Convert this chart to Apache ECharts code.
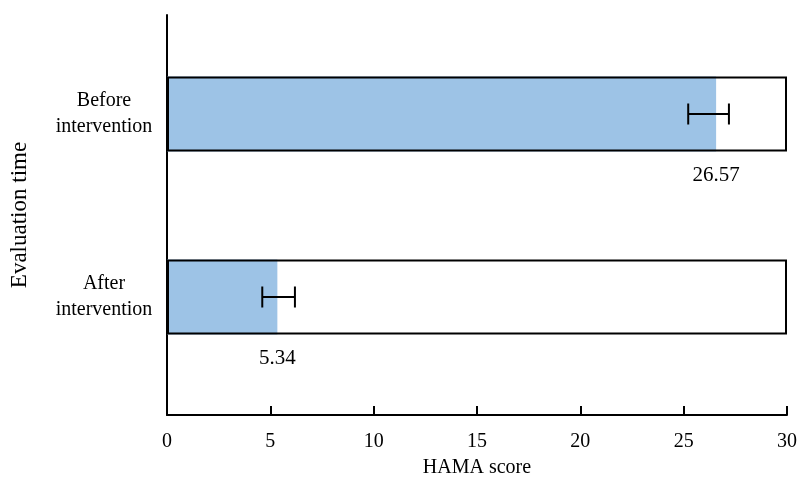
<!DOCTYPE html>
<html>
<head>
<meta charset="utf-8">
<script src="https://cdn.jsdelivr.net/npm/echarts@6/dist/echarts.min.js"></script>
<style>
  html, body { margin: 0; padding: 0; background: #ffffff; }
  #chart { width: 801px; height: 483px; }
</style>
</head>
<body>
<div id="chart"></div>
<script>
// ---- data ----
const categories = ['Before intervention', 'After intervention'];
const scores = [26.57, 5.34];
const errorLow = [25.22, 4.61];
const errorHigh = [27.19, 6.19];
const xTicks = [0, 5, 10, 15, 20, 25, 30];
const xAxisName = 'HAMA score';
const yAxisName = 'Evaluation time';

// ---- styling ----
const FONT = '"Liberation Serif", "Times New Roman", serif';
const scaleMin = xTicks[0];
const scaleMax = xTicks[xTicks.length - 1];
const tickStep = xTicks[1] - xTicks[0];

const chart = echarts.init(document.getElementById('chart'), null, { renderer: 'canvas' });

const option = {
  animation: false,
  backgroundColor: '#ffffff',
  textStyle: { fontFamily: FONT, color: '#000' },
  grid: [
    { left: 167, right: 14, top: 15, bottom: 68 },
    { left: 167, right: 14, top: 22.5, bottom: 94.5 }
  ],
  xAxis: [
    {
      gridIndex: 0,
      type: 'value',
      min: scaleMin, max: scaleMax, interval: tickStep,
      axisLine: { show: true, lineStyle: { color: '#000', width: 2 } },
      axisTick: { show: true, inside: true, length: 9, lineStyle: { color: '#000', width: 2 } },
      axisLabel: { color: '#000', fontFamily: FONT, fontSize: 20, margin: 17 },
      splitLine: { show: false },
      name: xAxisName,
      nameLocation: 'middle',
      nameGap: 43,
      nameTextStyle: { color: '#000', fontFamily: FONT, fontSize: 20 }
    },
    {
      gridIndex: 1,
      type: 'value',
      min: scaleMin, max: scaleMax,
      show: false
    }
  ],
  yAxis: [
    {
      gridIndex: 0,
      type: 'category',
      data: categories,
      inverse: true,
      axisLine: { show: true, lineStyle: { color: '#000', width: 2 } },
      axisTick: { show: false },
      axisLabel: { show: false },
      splitLine: { show: false },
      name: yAxisName,
      nameLocation: 'middle',
      nameGap: 136,
      nameTextStyle: { color: '#000', fontFamily: FONT, fontSize: 23 }
    },
    {
      gridIndex: 1,
      type: 'category',
      data: categories,
      inverse: true,
      axisLine: { show: false },
      axisTick: { show: false },
      splitLine: { show: false },
      axisLabel: {
        color: '#000', fontFamily: FONT, fontSize: 20, lineHeight: 26,
        align: 'center', margin: 63,
        formatter: (v) => v.replace(' ', '\n')
      }
    }
  ],
  series: [
    {
      name: 'score',
      type: 'bar',
      xAxisIndex: 1, yAxisIndex: 1,
      data: scores,
      barWidth: 75,
      itemStyle: { color: '#9DC3E6' },
      label: {
        show: true,
        position: ['100%', '100%'],
        align: 'center',
        verticalAlign: 'middle',
        offset: [0, 24],
        color: '#000', fontFamily: FONT, fontSize: 21,
        formatter: (p) => p.value.toFixed(2)
      },
      z: 2
    },
    {
      name: 'frame',
      type: 'bar',
      xAxisIndex: 1, yAxisIndex: 1,
      data: categories.map(() => scaleMax),
      barWidth: 75,
      barGap: '-100%',
      itemStyle: { color: 'rgba(0,0,0,0)', borderColor: '#000', borderWidth: 2 },
      silent: true,
      z: 3
    },
    {
      name: 'error',
      type: 'custom',
      xAxisIndex: 1, yAxisIndex: 1,
      data: categories.map((c, i) => [i, errorLow[i], errorHigh[i]]),
      renderItem: function (params, api) {
        const idx = api.value(0);
        const p1 = api.coord([api.value(1), idx]);
        const p2 = api.coord([api.value(2), idx]);
        const h = 10.5;
        const style = { stroke: '#000', lineWidth: 2 };
        return {
          type: 'group',
          children: [
            { type: 'line', shape: { x1: p1[0], y1: p1[1], x2: p2[0], y2: p2[1] }, style },
            { type: 'line', shape: { x1: p1[0], y1: p1[1] - h, x2: p1[0], y2: p1[1] + h }, style },
            { type: 'line', shape: { x1: p2[0], y1: p2[1] - h, x2: p2[0], y2: p2[1] + h }, style }
          ]
        };
      },
      encode: { x: [1, 2], y: 0 },
      z: 4
    }
  ]
};

chart.setOption(option);
</script>
</body>
</html>
